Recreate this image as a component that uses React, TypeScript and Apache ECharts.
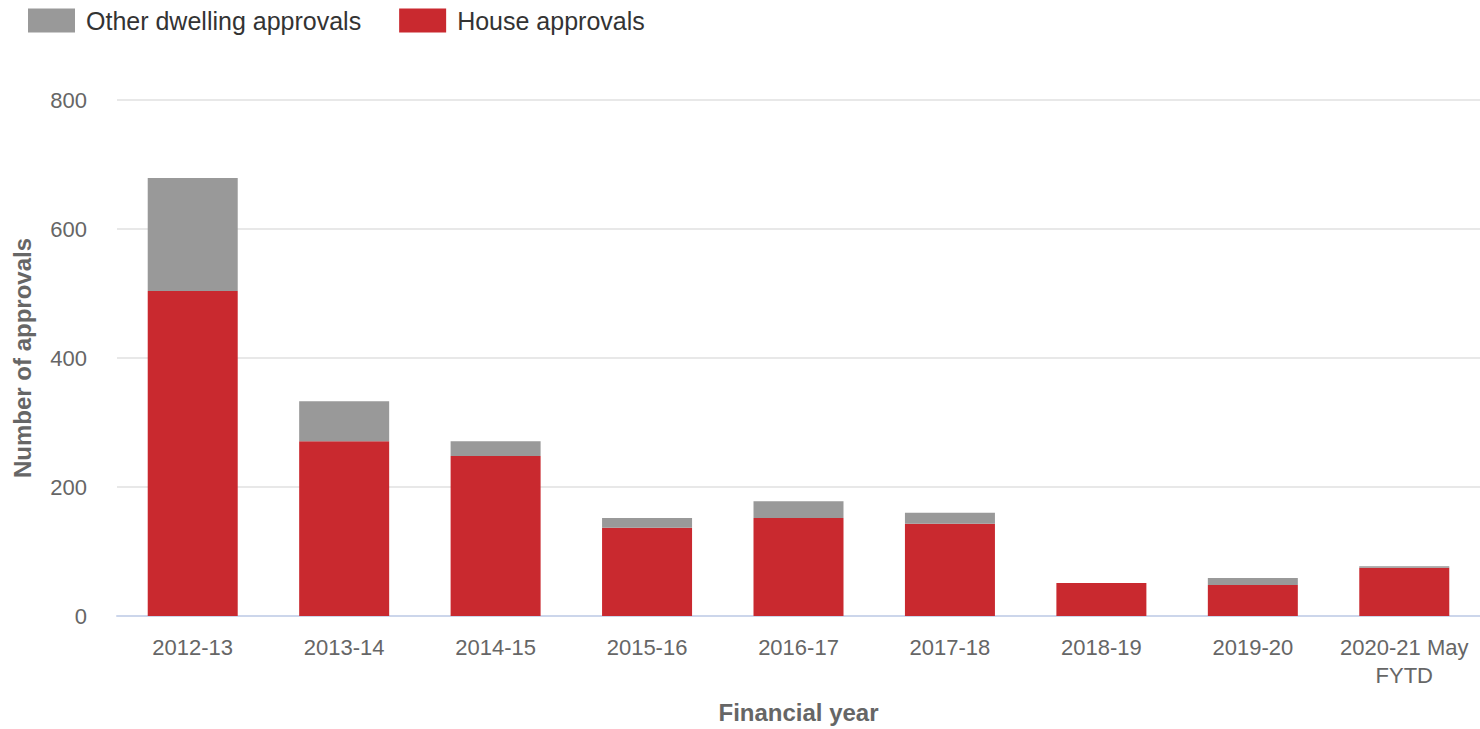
import React, { useEffect, useRef } from "react";
import * as echarts from "echarts";

const categories = [
  "2012-13",
  "2013-14",
  "2014-15",
  "2015-16",
  "2016-17",
  "2017-18",
  "2018-19",
  "2019-20",
  "2020-21 May\nFYTD",
];
const houseApprovals = [504, 271, 248, 137, 152, 143, 51, 48, 75];
const otherDwellingApprovals = [175, 62, 23, 15, 26, 17, 0, 11, 2];
const yTicks = [0, 200, 400, 600, 800];

export default function App() {
  const ref = useRef<HTMLDivElement>(null);
  useEffect(() => {
    if (!ref.current) return;
    const chart = echarts.init(ref.current, undefined, { renderer: "svg" });
    const font = '"Liberation Sans", Arial, Helvetica, sans-serif';
    chart.setOption({
      animation: false,
      textStyle: { fontFamily: font },
      legend: {
        left: 28,
        top: 8,
        padding: 0,
        itemWidth: 47,
        itemHeight: 24,
        itemGap: 38,
        icon: "rect",
        data: ["Other dwelling approvals", "House approvals"],
        textStyle: {
          fontFamily: font,
          fontSize: 25,
          color: "#333333",
          padding: [0, 0, 0, 6],
        },
      },
      grid: { left: 117, right: 0, top: 100, bottom: 111.5 },
      xAxis: {
        type: "category",
        data: categories,
        name: "Financial year",
        nameLocation: "middle",
        nameGap: 84,
        nameTextStyle: { fontFamily: font, fontSize: 24, fontWeight: "bold", color: "#666666" },
        axisLine: { lineStyle: { color: "#ccd6eb", width: 2 } },
        axisTick: { alignWithLabel: true, length: 18, lineStyle: { color: "#ccd6eb", width: 2 } },
        axisLabel: {
          fontFamily: font,
          fontSize: 22,
          color: "#666666",
          margin: 17,
          lineHeight: 28,
          interval: 0,
        },
      },
      yAxis: {
        type: "value",
        min: yTicks[0],
        max: yTicks[yTicks.length - 1],
        interval: 200,
        name: "Number of approvals",
        nameLocation: "middle",
        nameGap: 83,
        nameRotate: 90,
        nameTextStyle: { fontFamily: font, fontSize: 24, fontWeight: "bold", color: "#666666" },
        axisLine: { show: false },
        axisTick: { show: false },
        axisLabel: { fontFamily: font, fontSize: 22, color: "#666666", margin: 30 },
        splitLine: { lineStyle: { color: "#e8e8e8", width: 2 } },
      },
      series: [
        {
          name: "House approvals",
          type: "bar",
          stack: "total",
          data: houseApprovals,
          barWidth: 90,
          itemStyle: { color: "#c9292f" },
        },
        {
          name: "Other dwelling approvals",
          type: "bar",
          stack: "total",
          data: otherDwellingApprovals,
          barWidth: 90,
          itemStyle: { color: "#999999" },
        },
      ],
    });
    return () => chart.dispose();
  }, []);
  return (
    <div
      ref={ref}
      style={{ position: "fixed", left: 0, top: 0, width: 1480, height: 729, background: "#ffffff" }}
    />
  );
}
